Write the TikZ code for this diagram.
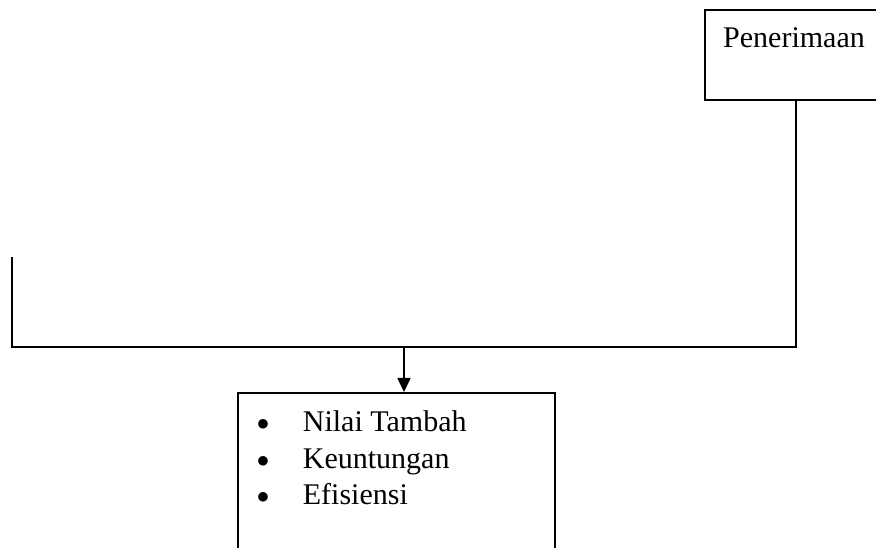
\documentclass[tikz,border=0pt]{standalone}
\usepackage{fontspec}
\setmainfont{Liberation Serif}
\usetikzlibrary{arrows.meta}

\tikzset{
  kotak/.style={draw, line width=1.6pt, rectangle, inner sep=0pt},
  teks/.style={anchor=base west, inner sep=0pt, font=\fontsize{30}{36}\selectfont},
  titik/.style={anchor=base, inner sep=0pt, font=\fontsize{35}{36}\selectfont},
  garis/.style={line width=1.6pt},
}

\begin{document}
\begin{tikzpicture}[x=1pt, y=1pt]
  \useasboundingbox (0,0) rectangle (876,548);

  \node[kotak, anchor=north west, minimum width=182pt, minimum height=90pt] (penerimaan) at (704,539) {};
  \node[teks] (penerimaanteks) at (723,500.7) {Penerimaan};

  \node[kotak, anchor=north west, minimum width=317pt, minimum height=180pt] (hasil) at (237,156) {};
  \foreach \isi/\y [count=\i] in {Nilai Tambah/116.3, Keuntungan/79.7, Efisiensi/43} {
    \node[titik] (titik\i) at (263,\y+1) {$\bullet$};
    \node[teks] (hasil\i) at (302.7,\y) {\isi};
  }

  \coordinate (kiri) at (12,291);
  \coordinate (cabang) at (404,201);

  \draw[garis] (penerimaan.south) |- (kiri |- cabang) -- (kiri);
  \draw[garis, -{Triangle[length=14pt, width=13pt]}] (cabang) -- (cabang |- hasil.north);
\end{tikzpicture}
\end{document}
